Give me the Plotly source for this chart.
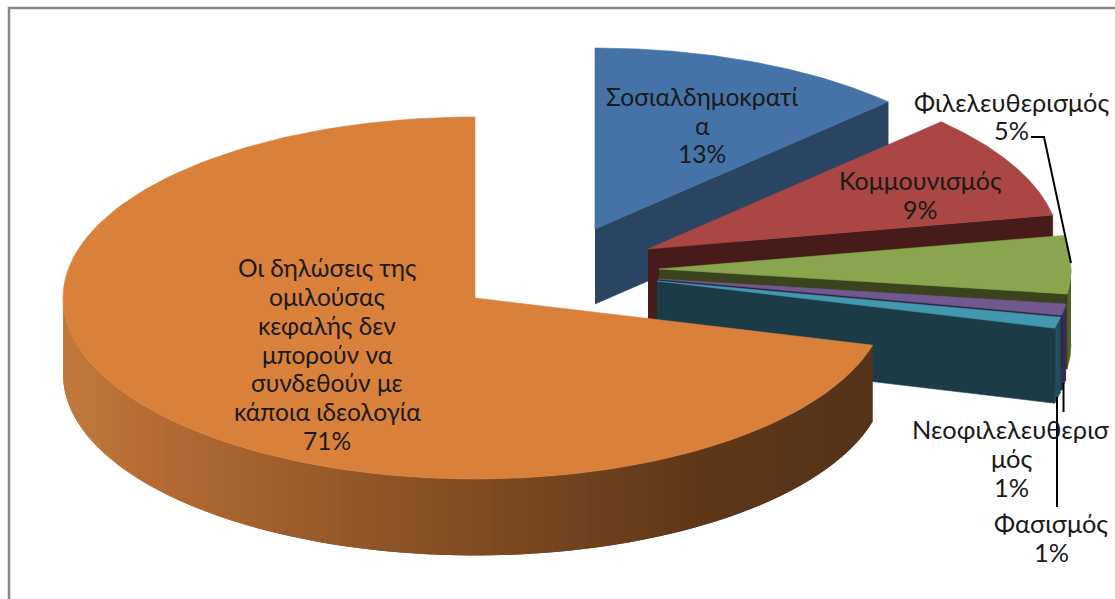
import numpy as np
import plotly.graph_objects as go

# ---- data ----
categories = ["Σοσιαλδημοκρατία", "Κομμουνισμός", "Φιλελευθερισμός",
              "Νεοφιλελευθερισμός", "Φασισμός",
              "Οι δηλώσεις της ομιλούσας κεφαλής δεν μπορούν να συνδεθούν με κάποια ιδεολογία"]
values = [12.6, 9.4, 5.2, 1.0, 1.0, 70.8]
label_lines = [
    ["Σοσιαλδημοκρατί", "α"],
    ["Κομμουνισμός"],
    ["Φιλελευθερισμός"],
    ["Νεοφιλελευθερισ", "μός"],
    ["Φασισμός"],
    ["Οι δηλώσεις της", "ομιλούσας", "κεφαλής δεν", "μπορούν να", "συνδεθούν με", "κάποια ιδεολογία"],
]

# ---- styling / projection ----
top_colors = ["#4572A7", "#AA4643", "#89A54E", "#71588F", "#4198AF", "#D9813B"]
cut_colors = ["#2A4562", "#461B19", "#3A431E", "#2E2340", "#1B3C47", "#55331A"]
rim_colors = ["#2A4562", "#461B19", "#4F6229", "#3A2A52", "#1F4E5C", None]
apexes = [(595, 229), (648, 249), (659, 269), (658, 279), (657, 281), (475, 298)]
label_pos = [(702, 125), (920, 194.5), (1011, 116), (1011, 458), (1051, 537.5), (327, 354)]
label_size = [24.6, 25, 25.3, 25.4, 25.3, 24.5]
RX, RY, DEPTH, ORANGE_DEPTH = 412, 181, 75, 76.5
LINE_H = 28.8

fractions = np.array(values) / sum(values)
edges = np.concatenate([[0], np.cumsum(fractions)]) * 2 * np.pi


def rim(apex, a0, a1, n=80):
    t = np.linspace(a0, a1, n)
    return apex[0] + RX * np.sin(t), apex[1] - RY * np.cos(t)


def poly(fig, xs, ys, color, lw=0.6):
    fig.add_trace(go.Scatter(x=list(xs), y=list(ys), mode="lines", fill="toself",
                             fillcolor=color, line=dict(color=color, width=lw),
                             hoverinfo="skip", showlegend=False))


def wall_shade(x):
    stops_x = [63, 150, 300, 500, 700, 873]
    stops = np.array([[192, 122, 60], [183, 108, 52], [156, 93, 43],
                      [124, 74, 34], [95, 56, 25], [85, 51, 26]])
    c = [int(np.interp(x, stops_x, stops[:, i])) for i in range(3)]
    return f"rgb({c[0]},{c[1]},{c[2]})"


fig = go.Figure()
for i in range(len(values)):
    ap = apexes[i]
    a0, a1 = edges[i], edges[i + 1]
    if i < 5:
        # outer wall, only its front-facing part
        lo = max(a0, np.pi / 2)
        if lo < a1:
            rx, ry = rim(ap, lo, a1, 20)
            poly(fig, np.r_[rx, rx[::-1]], np.r_[ry, ry[::-1] + DEPTH], rim_colors[i])
        # cut face at the slice's closing edge
        ex, ey = rim(ap, a1, a1, 1)
        poly(fig, [ap[0], ex[0], ex[0], ap[0]],
             [ap[1], ey[0], ey[0] + DEPTH, ap[1] + DEPTH], cut_colors[i])
    else:
        # shaded outer wall, drawn as overlapping strips so no seams show
        hi = 1.5 * np.pi
        steps = np.linspace(a0, hi, 110)
        for j in range(len(steps) - 1):
            s0 = steps[j]
            s1 = steps[min(j + 2, len(steps) - 1)]
            rx, ry = rim(ap, s0, s1, 5)
            poly(fig, np.r_[rx, rx[::-1]], np.r_[ry, ry[::-1] + ORANGE_DEPTH],
                 wall_shade(rim(ap, steps[j], steps[j + 1], 2)[0].mean()), lw=0)
    rx, ry = rim(ap, a0, a1, 160)
    poly(fig, np.r_[ap[0], rx, ap[0]], np.r_[ap[1], ry, ap[1]], top_colors[i])

# leader lines
leaders = [([1031, 1044, 1071], [137, 137, 263]),
           ([1063.5, 1063.5], [383, 412]),
           ([1057, 1057], [397, 507])]
for lx, ly in leaders:
    fig.add_trace(go.Scatter(x=lx, y=ly, mode="lines", line=dict(color="#000000", width=2),
                             hoverinfo="skip", showlegend=False))

# frame
fig.add_trace(go.Scatter(x=[9, 9, 1115], y=[599, 8, 8], mode="lines",
                         line=dict(color="#868686", width=2.5),
                         hoverinfo="skip", showlegend=False))

annotations = []
for lines, v, (lx, ly), size in zip(label_lines, values, label_pos, label_size):
    rows = lines + [f"{round(v)}%"]
    top = ly - LINE_H * (len(rows) - 1) / 2
    for k, row in enumerate(rows):
        annotations.append(dict(x=lx, y=top + k * LINE_H, text=row, showarrow=False,
                                xanchor="center", yanchor="middle",
                                font=dict(family="Lato, Carlito, sans-serif", size=size,
                                          color="#1A1A1A")))

fig.update_layout(
    width=1115, height=599, margin=dict(l=0, r=0, t=0, b=0),
    paper_bgcolor="white", plot_bgcolor="white", showlegend=False,
    xaxis=dict(range=[0, 1115], visible=False, fixedrange=True),
    yaxis=dict(range=[599, 0], visible=False, fixedrange=True),
    annotations=annotations,
)
fig.write_html("out.html", config={"displayModeBar": False},
               post_script="document.body.style.margin='0';document.body.style.overflow='hidden';")
